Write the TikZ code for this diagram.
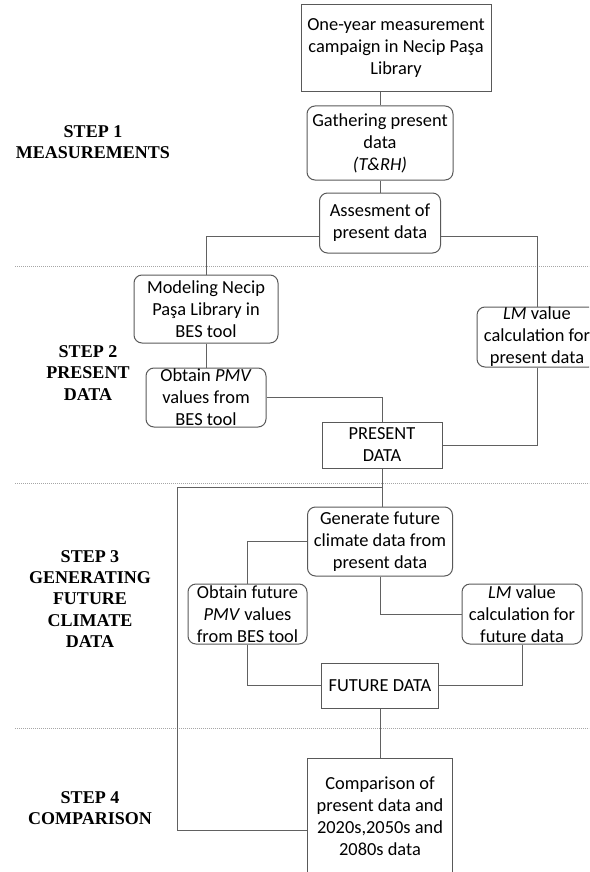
\documentclass[tikz,border=0pt]{standalone}
\usepackage{fontspec}
\setmainfont{Carlito}
\newfontfamily\stepfont{Liberation Serif}

\tikzset{
    box/.style={draw=black!65, line width=0.5pt, align=center, inner xsep=1pt, inner ysep=0pt,
        font=\fontsize{9.2}{11}\selectfont},
    rbox/.style={box, rounded corners=4pt},
    link/.style={draw=black!62, line width=0.5pt},
    steplabel/.style={align=center, font=\stepfont\bfseries\fontsize{9}{10.7}\selectfont},
    sep/.style={draw=black!35, dash pattern=on 0.4pt off 0.6pt, line width=0.5pt}
}

\begin{document}
\begin{tikzpicture}[x=0.5pt, y=-0.5pt]
    \clip (0,0) rectangle (589,872);
    \foreach \y in {266,483,728}
    \draw [sep] (15,\y) -- (589,\y);
    \node [steplabel] (s1) at (93,142) {STEP 1\\MEASUREMENTS};
    \node [steplabel] (s2) at (88,373) {STEP 2\\PRESENT\\DATA};
    \node [steplabel] (s3) at (90,599) {STEP 3\\GENERATING\\FUTURE\\CLIMATE\\DATA};
    \node [steplabel] (s4) at (90,808) {STEP 4\\COMPARISON};
    \node [box, minimum width=95pt, minimum height=43.5pt] (campaign) at (396,48.5)
        {One-year measurement\\campaign in Necip Paşa\\Library};
    \node [rbox, minimum width=73pt, minimum height=37pt] (gather) at (380,143)
        {Gathering present\\data\\\textit{(T\&RH)}};
    \node [rbox, minimum width=60.5pt, minimum height=30pt] (assess) at (380,223)
        {Assesment of\\present data};
    \node [rbox, minimum width=72pt, minimum height=34pt] (model) at (206,309)
        {Modeling Necip\\Paşa Library in\\BES tool};
    \node [rbox, minimum width=60pt, minimum height=30pt] (lmpres) at (537,337)
        {\textit{LM} value\\calculation for\\present data};
    \node [rbox, minimum width=60pt, minimum height=29.5pt] (pmvpres) at (206,397.5)
        {Obtain \textit{PMV}\\values from\\BES tool};
    \node [box, minimum width=60pt, minimum height=23pt] (present) at (382,445)
        {PRESENT\\DATA};
    \node [rbox, minimum width=72.5pt, minimum height=34.5pt] (generate) at (380,541.5)
        {Generate future\\climate data from\\present data};
    \node [rbox, minimum width=59.5pt, minimum height=30pt] (pmvfut) at (247.5,614)
        {Obtain future\\\textit{PMV} values\\from BES tool};
    \node [rbox, minimum width=60pt, minimum height=30pt] (lmfut) at (522,614)
        {\textit{LM} value\\calculation for\\future data};
    \node [box, minimum width=58.5pt, minimum height=22.5pt] (future) at (380,685.5)
        {FUTURE DATA};
    \node [box, minimum width=72.5pt, minimum height=58pt] (compare) at (380,816)
        {Comparison of\\present data and\\2020s,2050s and\\2080s data};
    \coordinate (loop) at (177,487);
    \draw [link] (campaign.south -| gather.north) -- (gather.north);
    \draw [link] (gather.south) -- (assess.north);
    \draw [link] ([yshift=-6.5pt]assess.west) -| (model.north);
    \draw [link] ([yshift=-6.5pt]assess.east) -| (lmpres.north);
    \draw [link] (model.south) -- (pmvpres.north);
    \draw [link] (pmvpres.east) -| (present.north);
    \draw [link] (lmpres.south) |- (present.east);
    \draw [link] (present.south) |- (loop) |- ([yshift=-7pt]compare.west);
    \draw [link] (present.south) -- (present.south |- generate.north);
    \draw [link] (generate.west) -| (pmvfut.north);
    \draw [link] (generate.south) |- (lmfut.west);
    \draw [link] (pmvfut.south) |- (future.west);
    \draw [link] (lmfut.south) |- (future.east);
    \draw [link] (future.south) -- (compare.north);
\end{tikzpicture}
\end{document}
